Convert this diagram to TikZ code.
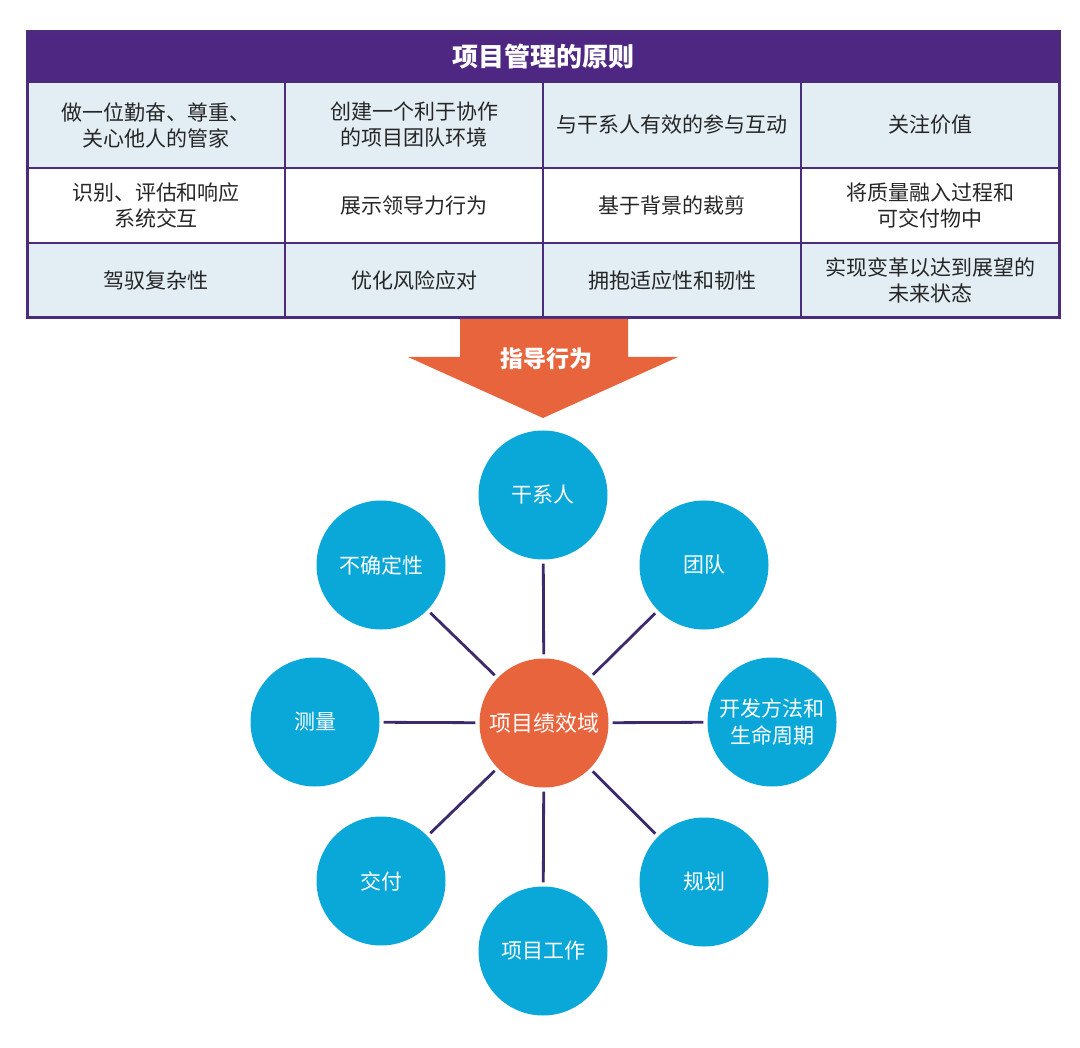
\documentclass[tikz,border=0pt]{standalone}
\usepackage{fontspec}
\setmainfont{Noto Sans CJK SC}
\usepackage{tikz}

\definecolor{headpurple}{HTML}{4E2783}
\definecolor{gridpurple}{HTML}{4A2C7A}
\definecolor{cellblue}{HTML}{E3EDF4}
\definecolor{arroworange}{HTML}{E8643C}
\definecolor{domblue}{HTML}{0AA8D9}
\definecolor{spokepurple}{HTML}{3D2A6A}

\tikzset{
  cell/.style={draw=gridpurple, line width=1.6pt, minimum width=258pt, align=center,
    text=black!85, font=\fontsize{21}{26}\selectfont},
  bluecell/.style={cell, fill=cellblue},
  dombubble/.style={circle, fill=domblue, minimum size=129pt, inner sep=0pt, align=center,
    text=white, font=\fontsize{21}{27}\selectfont},
  spoke/.style={spokepurple, line width=2.8pt, shorten >=4pt, shorten <=4pt}
}

\begin{document}
\begin{tikzpicture}[x=1pt,y=-1pt]
	\useasboundingbox (0,0) rectangle (1080,1048);
	% principles table
	\node[fill=headpurple, minimum width=1032pt, minimum height=49pt, text=white,
	      font=\fontsize{26}{30}\selectfont\bfseries] (head) at (543,57) {项目管理的原则};
	\node[bluecell, minimum height=86pt] (p11) at (156,125) {做一位勤奋、尊重、\\关心他人的管家};
	\node[bluecell, minimum height=86pt] (p12) at (414,125) {创建一个利于协作\\的项目团队环境};
	\node[bluecell, minimum height=86pt] (p13) at (672,125) {与干系人有效的参与互动};
	\node[bluecell, minimum height=86pt] (p14) at (930,125) {关注价值};
	\node[cell, minimum height=75pt] (p21) at (156,205.5) {识别、评估和响应\\系统交互};
	\node[cell, minimum height=75pt] (p22) at (414,205.5) {展示领导力行为};
	\node[cell, minimum height=75pt] (p23) at (672,205.5) {基于背景的裁剪};
	\node[cell, minimum height=75pt] (p24) at (930,205.5) {将质量融入过程和\\可交付物中};
	\node[bluecell, minimum height=75pt] (p31) at (156,280.5) {驾驭复杂性};
	\node[bluecell, minimum height=75pt] (p32) at (414,280.5) {优化风险应对};
	\node[bluecell, minimum height=75pt] (p33) at (672,280.5) {拥抱适应性和韧性};
	\node[bluecell, minimum height=75pt] (p34) at (930,280.5) {实现变革以达到展望的\\未来状态};
	\draw[gridpurple, line width=3pt] (27,32) rectangle (1059,318);

	% guiding arrow
	\fill[arroworange] (460,319) -- (628,319) -- (628,357) -- (678,357) -- (543,418)
	      -- (408,357) -- (460,357) -- cycle;
	\node[text=white, font=\fontsize{23}{27}\selectfont\bfseries] (guide) at (546,359) {指导行为};

	% performance domains
	\node[dombubble, fill=arroworange, font=\fontsize{22}{26}\selectfont] (core) at (544,723) {项目绩效域};
	\foreach \px/\py/\nm/\txt in {543/495/stake/干系人, 704/565/team/团队,
	    772/722/dev/{开发方法和\\生命周期}, 704/882/plan/规划, 543/951/work/项目工作,
	    381/881/deliv/交付, 315/722/meas/测量, 381/565/unc/不确定性}
	{
	  \node[dombubble] (\nm) at (\px,\py) {\txt};
	  \draw[spoke] (core) -- (\nm);
	}
\end{tikzpicture}
\end{document}
